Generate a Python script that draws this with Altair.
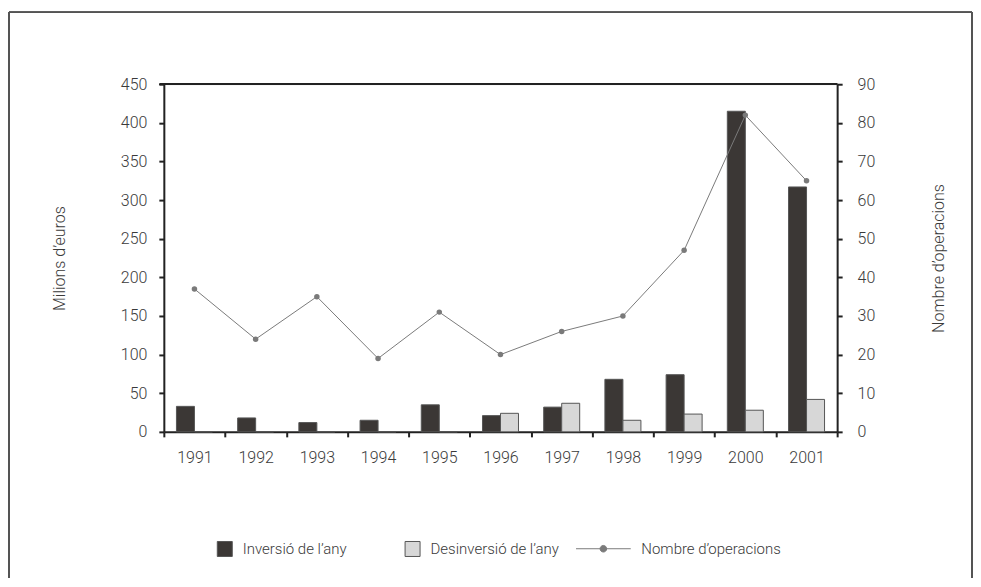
import altair as alt
import pandas as pd

years = ["1991", "1992", "1993", "1994", "1995", "1996", "1997", "1998", "1999", "2000", "2001"]
inversio = [33, 18, 12, 15, 35, 21, 32, 68, 74, 415, 317]
desinversio = [0, 0, 0, 0, 0, 24, 37, 15, 23, 28, 42]
operacions = [37, 24, 35, 19, 31, 20, 26, 30, 47, 82, 65]

s_inv = "Inversió de l’any"
s_des = "Desinversió de l’any"
s_ops = "Nombre d’operacions"

bars_df = pd.DataFrame(
    [{"any": y, "serie": s_inv, "valor": v} for y, v in zip(years, inversio)]
    + [{"any": y, "serie": s_des, "valor": v} for y, v in zip(years, desinversio)]
)
line_df = pd.DataFrame({"any": years, "ops": operacions, "serie": [s_ops] * len(years)})

FONT = "Roboto"
TXT = "#3a3a3a"
AX = "#222"

x_enc = alt.X(
    "any:N",
    sort=years,
    scale=alt.Scale(paddingInner=0, paddingOuter=0),
    axis=alt.Axis(
        title="",
        labelAngle=0,
        tickBand="extent",
        tickSize=5,
        tickWidth=2,
        tickColor=AX,
        domainColor=AX,
        domainWidth=2,
        labelPadding=13,
        labelFontSize=16,
        labelFont=FONT,
        labelFontWeight=300,
        labelColor=TXT,
    ),
)

bars = alt.Chart(bars_df).mark_bar(stroke="#555", strokeWidth=1).encode(
    x=x_enc,
    xOffset=alt.XOffset(
        "serie:N",
        sort=[s_inv, s_des],
        scale=alt.Scale(domain=[s_inv, s_des], paddingInner=0, paddingOuter=0.7),
    ),
    y=alt.Y(
        "valor:Q",
        scale=alt.Scale(domain=[0, 450], nice=False),
        axis=alt.Axis(
            orient="left",
            values=list(range(0, 451, 50)),
            title="Milions d’euros",
            titleAngle=270,
            titleX=-104,
            titleY=174,
            titleAlign="center",
            titleBaseline="middle",
            titleFont=FONT,
            titleFontWeight=300,
            titleFontSize=16,
            titleColor=TXT,
            tickSize=5,
            tickWidth=2,
            tickColor=AX,
            domainColor=AX,
            domainWidth=2,
            labelPadding=12,
            labelFontSize=16,
            labelFont=FONT,
            labelFontWeight=300,
            labelColor=TXT,
            grid=False,
        ),
    ),
    fill=alt.Fill(
        "serie:N",
        sort=[s_inv, s_des],
        scale=alt.Scale(domain=[s_inv, s_des], range=["#3b3735", "#d7d7d7"]),
        legend=alt.Legend(
            title="",
            orient="none",
            legendX=53,
            legendY=457,
            direction="horizontal",
            symbolType="square",
            symbolSize=225,
            symbolStrokeColor="#555",
            symbolStrokeWidth=1,
            labelFont=FONT,
            labelFontWeight=300,
            labelFontSize=15,
            labelColor=TXT,
            labelOffset=10,
            columnPadding=55,
            padding=0,
            labelLimit=300,
        ),
    ),
)

line = alt.Chart(line_df).mark_line(
    strokeWidth=1,
    point=alt.OverlayMarkDef(filled=True, fill="#7a7a7a", stroke="#7a7a7a", strokeWidth=0, size=30),
).encode(
    x=alt.X("any:N", sort=years),
    y=alt.Y(
        "ops:Q",
        scale=alt.Scale(domain=[0, 90], nice=False),
        axis=alt.Axis(
            orient="right",
            values=list(range(0, 91, 10)),
            title=s_ops,
            titleAngle=270,
            titleX=101,
            titleY=174,
            titleAlign="center",
            titleBaseline="middle",
            titleFont=FONT,
            titleFontWeight=300,
            titleFontSize=16,
            titleColor=TXT,
            tickSize=5,
            tickWidth=2,
            tickColor=AX,
            domainColor=AX,
            domainWidth=2,
            labelPadding=15,
            labelFontSize=16,
            labelFont=FONT,
            labelFontWeight=300,
            labelColor=TXT,
            grid=False,
        ),
    ),
    stroke=alt.Stroke(
        "serie:N",
        scale=alt.Scale(domain=[s_ops], range=["#7a7a7a"]),
        legend=alt.Legend(
            title="",
            orient="none",
            legendX=412,
            legendY=437,
            direction="horizontal",
            symbolType="M-1,0H1M0.12,0A0.12,0.12 0 1 1 -0.12,0A0.12,0.12 0 1 1 0.12,0Z",
            symbolSize=3000,
            symbolFillColor="#7a7a7a",
            symbolStrokeWidth=1,
            labelFont=FONT,
            labelFontWeight=300,
            labelFontSize=15,
            labelColor=TXT,
            labelOffset=10,
            padding=0,
            labelLimit=300,
        ),
    ),
)

frame_left = alt.Chart(line_df).mark_rule(color="#555", strokeWidth=1).encode(
    x=alt.value(-155), y=alt.value(-72), y2=alt.value(494)
)
frame_right = alt.Chart(line_df).mark_rule(color="#555", strokeWidth=1).encode(
    x=alt.value(809), y=alt.value(-72), y2=alt.value(494)
)
frame_top = alt.Chart(line_df).mark_rule(color="#555", strokeWidth=1).encode(
    x=alt.value(-155), x2=alt.value(809), y=alt.value(-72)
)
plot_top = alt.Chart(line_df).mark_rule(color=AX, strokeWidth=1.5).encode(
    x=alt.value(-4), x2=alt.value(674), y=alt.value(0)
)

chart = (
    alt.layer(bars, line, frame_left, frame_right, frame_top, plot_top)
    .resolve_scale(y="independent", fill="independent", stroke="independent")
    .properties(
        width=674,
        height=348,
        padding={"left": 0, "top": 3, "right": 0, "bottom": 0},
    )
    .configure_view(stroke=None)
    .configure(background="white")
)

chart.save("out.html", embed_options={"renderer": "svg", "actions": False})
